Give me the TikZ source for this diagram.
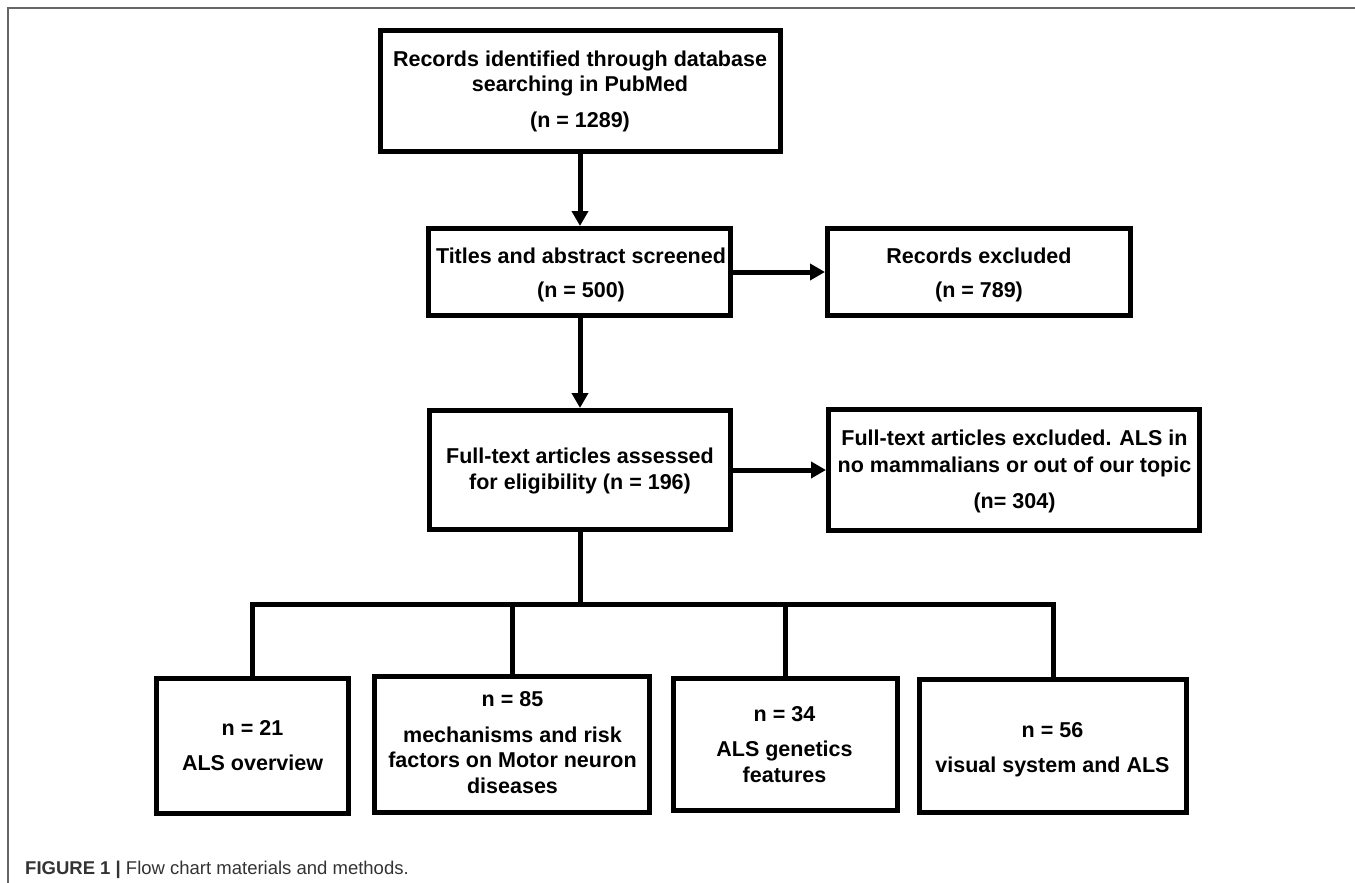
\documentclass[tikz,border=0pt]{standalone}
\usepackage{fontspec}
\setmainfont{Liberation Sans}
\usetikzlibrary{arrows.meta}
\begin{document}
\begin{tikzpicture}[x=1pt,y=-1pt,
  box/.style={draw=black, line width=5pt, rectangle, inner sep=0pt, line join=miter},
  lbl/.style={font=\bfseries\fontsize{21.5}{25.5}\selectfont, align=center, inner sep=0pt, anchor=base},
  conn/.style={line width=5pt, line join=miter},
  arr/.style={conn, -{Triangle[length=15pt,width=16pt]}},
  frameline/.style={draw=black!60, line width=1.3pt},
]
\useasboundingbox (0,0) rectangle (1355,883);
\draw[frameline] (8,883) -- (8,8) -- (1355,8);

% boxes
\node[box, minimum width=400pt, minimum height=121pt] (b1) at (580.5,91) {};
\node[box, minimum width=302pt, minimum height=87pt] (b2) at (579.5,272) {};
\node[box, minimum width=303pt, minimum height=87pt] (b3) at (979,272) {};
\node[box, minimum width=301pt, minimum height=119pt] (b4) at (580,470) {};
\node[box, minimum width=371pt, minimum height=121pt] (b5) at (1014,470) {};
\node[box, minimum width=192pt, minimum height=135pt] (b6) at (252.5,746) {};
\node[box, minimum width=275pt, minimum height=136pt] (b7) at (512,744.5) {};
\node[box, minimum width=224pt, minimum height=132pt] (b8) at (785.5,744.5) {};
\node[box, minimum width=267pt, minimum height=133pt] (b9) at (1053,746) {};

% texts (anchor base = baseline of the last line)
\node[lbl] (t1) at (580,128) {Records identified through database\\searching in PubMed\\[10.5pt](n = 1289)};
\node[lbl] (t2) at (581,297) {Titles and abstract screened\\[8.5pt](n = 500)};
\node[lbl] (t3) at (979,297) {Records excluded\\[8.5pt](n = 789)};
\node[lbl] (t4) at (580,489) {Full-text articles assessed\\for eligibility (n = 196)};
\node[lbl] (t5) at (1014.5,508) {Full-text articles excluded. ALS in\\[1.5pt]no mammalians or out of our topic\\[10.5pt](n= 304)};
\node[lbl] (t6) at (252.5,770) {n = 21\\[9.5pt]ALS overview};
\node[lbl] (t7) at (512.5,793) {n = 85\\[10.5pt]mechanisms and risk\\factors on Motor neuron\\diseases};
\node[lbl] (t8) at (784.5,782) {n = 34\\[9.5pt]ALS genetics\\features};
\node[lbl] (t9) at (1052.5,772) {n = 56\\[9.5pt]visual system and ALS};

% connectors
\draw[arr] (b4.north |- b1.south) -- (b4.north |- b2.north);
\draw[arr] (b2.east) -- (b3.west);
\draw[arr] (b4.north |- b2.south) -- (b4.north);
\draw[arr] (b4.east) -- (b5.west);
\coordinate (split) at (580,604);
\draw[conn] (b4.south) -- (split);
\draw[conn] (b6.north) -- (b6.north |- split) -- (b9.north |- split) -- (b9.north);
\draw[conn] (b7.north |- split) -- (b7.north);
\draw[conn] (b8.north |- split) -- (b8.north);

% caption
\node[anchor=base west, inner sep=0pt, font=\fontsize{18.5}{22}\selectfont, text=black!80] (cap) at (25,874) {\textbf{FIGURE 1 |} Flow chart materials and methods.};
\end{tikzpicture}
\end{document}
